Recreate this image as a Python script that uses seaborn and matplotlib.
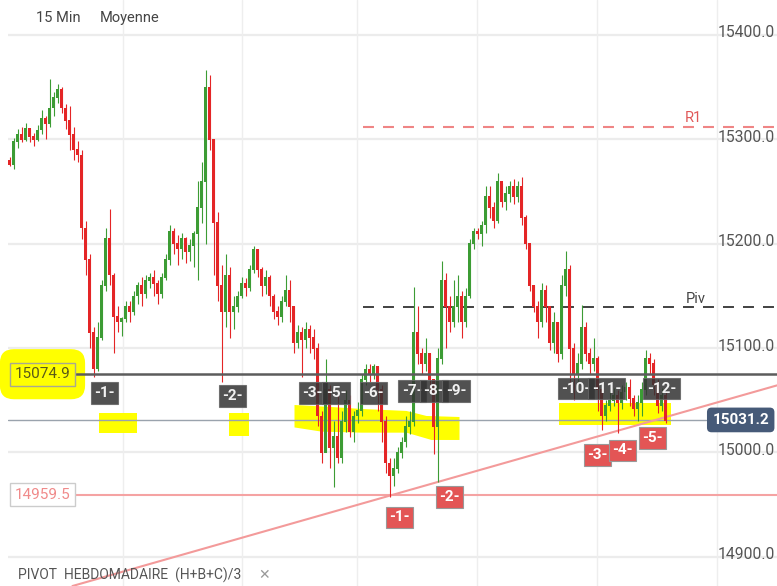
import numpy as np
import seaborn as sns
import matplotlib.pyplot as plt
from matplotlib.patches import FancyBboxPatch

# --- data: 15 min candles (prices) ---
first_open = 15280
close = [15276, 15298, 15305, 15300, 15310, 15303, 15300, 15309, 15320, 15315,
         15330, 15340, 15348, 15330, 15318, 15305, 15290, 15285, 15215, 15185,
         15115, 15080, 15110, 15160, 15205, 15170, 15130, 15125, 15128, 15140,
         15135, 15150, 15160, 15152, 15165, 15168, 15162, 15152, 15168, 15185,
         15212, 15200, 15195, 15205, 15192, 15198, 15210, 15235, 15260, 15350,
         15300, 15220, 15160, 15135, 15170, 15135, 15140, 15150, 15162, 15158,
         15175, 15195, 15175, 15160, 15168, 15150, 15135, 15130, 15145, 15155,
         15140, 15105, 15115, 15108, 15118, 15110, 15100, 15035, 15000, 15060,
         15005, 15015, 14995, 15030, 15050, 15020, 15035, 15040, 15070, 15080,
         15075, 15082, 15060, 15030, 14990, 14978, 14985, 15000, 15010, 15025,
         15030, 15115, 15095, 15085, 15095, 15070, 15025, 15090, 15165, 15140,
         15125, 15140, 15150, 15125, 15150, 15200, 15212, 15210, 15218, 15245,
         15235, 15222, 15260, 15240, 15248, 15255, 15245, 15255, 15225, 15200,
         15160, 15140, 15125, 15155, 15140, 15105, 15125, 15095, 15160, 15175,
         15100, 15075, 15085, 15120, 15095, 15085, 15090, 15060, 15035, 15045,
         15050, 15055, 15048, 15058, 15062, 15052, 15042, 15048, 15060, 15090,
         15085, 15065, 15045, 15055, 15031]
high = [15283, 15301, 15310, 15312, 15316, 15310, 15306, 15314, 15328, 15322,
        15358, 15345, 15353, 15350, 15334, 15332, 15312, 15298, 15290, 15222,
        15190, 15120, 15125, 15165, 15215, 15233, 15172, 15140, 15130, 15145,
        15145, 15155, 15163, 15168, 15170, 15172, 15175, 15165, 15172, 15190,
        15218, 15215, 15208, 15210, 15206, 15205, 15212, 15260, 15278, 15366,
        15362, 15300, 15230, 15180, 15190, 15178, 15150, 15155, 15168, 15167,
        15180, 15198, 15195, 15178, 15175, 15170, 15152, 15140, 15150, 15170,
        15165, 15140, 15122, 15120, 15125, 15122, 15118, 15105, 15040, 15090,
        15065, 15030, 15055, 15040, 15060, 15055, 15040, 15048, 15075, 15085,
        15085, 15085, 15083, 15065, 15035, 14995, 14995, 15005, 15015, 15035,
        15040, 15159, 15140, 15100, 15110, 15095, 15070, 15100, 15183, 15172,
        15150, 15165, 15170, 15155, 15158, 15205, 15215, 15215, 15222, 15255,
        15255, 15240, 15268, 15258, 15255, 15260, 15262, 15260, 15264, 15228,
        15200, 15160, 15145, 15162, 15160, 15140, 15135, 15125, 15170, 15193,
        15180, 15105, 15095, 15141, 15125, 15100, 15110, 15092, 15062, 15050,
        15058, 15062, 15060, 15065, 15068, 15070, 15055, 15055, 15068, 15098,
        15095, 15090, 15070, 15062, 15058]
low = [15274, 15272, 15292, 15297, 15298, 15297, 15294, 15298, 15305, 15300,
       15312, 15322, 15335, 15325, 15310, 15290, 15280, 15278, 15205, 15170,
       15100, 15072, 15078, 15108, 15155, 15160, 15095, 15115, 15112, 15125,
       15125, 15132, 15142, 15140, 15148, 15158, 15150, 15142, 15148, 15165,
       15180, 15190, 15180, 15185, 15182, 15183, 15178, 15165, 15220, 15200,
       15290, 15170, 15145, 15068, 15120, 15110, 15118, 15135, 15148, 15150,
       15155, 15172, 15168, 15150, 15152, 15140, 15128, 15122, 15125, 15140,
       15125, 15095, 15100, 15072, 15100, 15095, 15090, 15025, 14990, 15000,
       14985, 14967, 14990, 14990, 15020, 15015, 15010, 15028, 15035, 15065,
       15068, 15070, 15040, 15010, 14980, 14957, 14968, 14980, 14995, 15005,
       15018, 15025, 15085, 15075, 15078, 15060, 14999, 14972, 15085, 15100,
       15115, 15120, 15125, 15110, 15120, 15148, 15195, 15205, 15198, 15210,
       15225, 15215, 15220, 15235, 15232, 15240, 15238, 15240, 15218, 15195,
       15155, 15135, 15110, 15120, 15125, 15098, 15095, 15087, 15090, 15150,
       15065, 15050, 15060, 15080, 15088, 15075, 15078, 15040, 15022, 15030,
       15040, 15045, 15019, 15042, 15050, 15045, 15035, 15030, 15035, 15055,
       15075, 15055, 15038, 15040, 15028]

# price levels
price_ticks = [15400, 15300, 15200, 15100, 15000, 14900]
level_support = 15074.9
level_last = 15031.2
level_low = 14959.5
level_r1 = 15312
level_piv = 15139.5
time_ticks = [28.4, 58.1, 86.9, 116.9, 146.9, 176.9]

# trend line through the two lows
trend_p1 = (34.25, 14892.3)
trend_p2 = (192.25, 15064.7)

# labels: (text, candle index, price)
dark_tags = [("-1-", 23.75, 15057), ("-2-", 55.75, 15054), ("-3-", 75.8, 15057),
             ("-5-", 81.6, 15057), ("-6-", 91, 15057),
             ("-7-", 100.6, 15059), ("-8-", 106.1, 15059), ("-9-", 111.6, 15059),
             ("-10-", 141.6, 15061), ("-11-", 149.2, 15061), ("-12-", 163, 15061)]
red_tags = [("-1-", 97.5, 14938), ("-2-", 110, 14957.4), ("-3-", 147, 14997.6),
            ("-4-", 153.25, 15002), ("-5-", 160.75, 15014)]

# yellow highlighter zones
zone_band_x = [71.25, 80.5, 88, 99.25, 104.25, 112.5, 112.5, 105.5, 99.25, 88, 78, 71.25]
zone_band_y = [15045.5, 15043.6, 15041.7, 15039.8, 15035, 15034,
               15012, 15012, 15019, 15019, 15020, 15024]
zone_rects = [(22.25, 31.75, 15018.7, 15037.9), (54.75, 59.75, 15016, 15038),
              (137.25, 165.25, 15026.4, 15047.4)]

sns.set_theme(style="white")
plt.rcParams['font.family'] = ['Roboto', 'DejaVu Sans']
plt.rcParams['lines.scale_dashes'] = False

fig = plt.figure(figsize=(7.77, 5.86), dpi=100)
ax = fig.add_axes([8 / 777, 0, 769 / 777, 1])
ax.set_xlim(-0.375, 191.875)
ax.set_ylim(14872.1, 15433.5)
for s in ax.spines.values():
    s.set_visible(False)
ax.set_xticks([])
ax.set_yticks([])

# grid
for t in price_ticks:
    ax.axhline(t, color="#ececec", lw=1.6, zorder=0)
    ax.text(0.9974, t + 2, f"{t:.1f}", transform=ax.get_yaxis_transform(),
            ha="right", va="center", fontsize=11.3, color="#555555", zorder=8)
for t in time_ticks:
    ax.axvline(t, color="#eeeeee", lw=1, zorder=0)

# yellow zones (under the candles)
ax.fill(zone_band_x, zone_band_y, color="#ffff00", lw=0, zorder=1)
for x0, x1, y0, y1 in zone_rects:
    ax.fill_between([x0, x1], y0, y1, color="#ffff00", lw=0, zorder=1)
blob = FancyBboxPatch((-2.4, 15051), 21.3, 48, boxstyle="round,pad=0,rounding_size=3.5",
                      mutation_aspect=3.8, fc="#ffff00", ec="none", zorder=1,
                      clip_on=False)
ax.add_patch(blob)

# candles
idx = np.arange(len(close))
opens = np.array([first_open] + close[:-1])
closes = np.array(close)
up = closes >= opens
colors = np.where(up, "#3c9c34", "#e42526")
ax.vlines(idx, low, high, colors=colors, lw=0.8, zorder=3)
ax.bar(idx, np.abs(closes - opens) + 0.8, bottom=np.minimum(opens, closes) - 0.4,
       width=0.7, color=colors, lw=0, zorder=3)

# levels
ax.axhline(level_support, xmin=0.0884, xmax=1, color="#5c5c5c", lw=1.8, zorder=4)
ax.axhline(level_last, xmin=0, xmax=0.9077, color="#9aa3ad", lw=1, zorder=2)
ax.axhline(level_low, xmin=0.0884, xmax=1, color="#f5a3a3", lw=1.5, zorder=2)
ax.axhline(level_r1, xmin=0.4616, xmax=1, color="#ef8585", lw=1.5,
           dashes=(7.9, 6.5), zorder=2)
ax.axhline(level_piv, xmin=0.4616, xmax=1, color="#333333", lw=1.3,
           dashes=(7.9, 6.5), zorder=2)
ax.axline(trend_p1, trend_p2, color="#f39a9a", lw=1.5, zorder=2)

ax.text(171, 15320.5, "R1", ha="center", va="center", fontsize=10.5, color="#e05858")
ax.text(171.5, 15147, "Piv", ha="center", va="center", fontsize=10.5, color="#444444")
ax.text(171, 14863, "S1", ha="center", va="center", fontsize=10, color="#3c9c34",
        clip_on=False)

# price boxes
ax.text(8.3, level_support, "15074.9", ha="center", va="center", fontsize=11,
        color="#5a5a18", zorder=6,
        bbox=dict(boxstyle="square,pad=0.3", fc="none", ec="#a8a890", lw=1))
ax.text(8.3, level_low, "14959.5", ha="center", va="center", fontsize=11,
        color="#f08a8a", zorder=6,
        bbox=dict(boxstyle="square,pad=0.3", fc="white", ec="#cccccc", lw=1))
ax.text(182.8, level_last, "15031.2", ha="center", va="center", fontsize=11,
        color="white", fontweight="bold", zorder=6,
        bbox=dict(boxstyle="round,pad=0.35,rounding_size=0.3", fc="#465a78", ec="none"))

# numbered tags
for s, x, y in dark_tags:
    ax.text(x, y, s, ha="center", va="center", fontsize=11, color="#f2f2f2",
            fontweight="bold", zorder=7,
            bbox=dict(boxstyle="square,pad=0.24", fc="#333333", ec="#666666",
                      lw=0.8, alpha=0.85))
for s, x, y in red_tags:
    ax.text(x, y, s, ha="center", va="center", fontsize=11, color="white",
            fontweight="bold", zorder=7,
            bbox=dict(boxstyle="square,pad=0.24", fc="#e35555", ec="#999999", lw=0.8))

# header / footer
fig.text(36 / 777, 1 - 18 / 586, "15 Min", ha="left", va="center", fontsize=10.5, color="#444444")
fig.text(100 / 777, 1 - 18 / 586, "Moyenne", ha="left", va="center", fontsize=10.5, color="#444444")
fig.text(18 / 777, 1 - 575 / 586, "PIVOT  HEBDOMADAIRE  (H+B+C)/3", ha="left", va="center",
         fontsize=10, color="#555555")
fig.text(258 / 777, 1 - 575 / 586, "✕", ha="left", va="center", fontsize=10,
         color="#999999", family=["DejaVu Sans"])

plt.savefig("out.png", dpi=100)
plt.close()
